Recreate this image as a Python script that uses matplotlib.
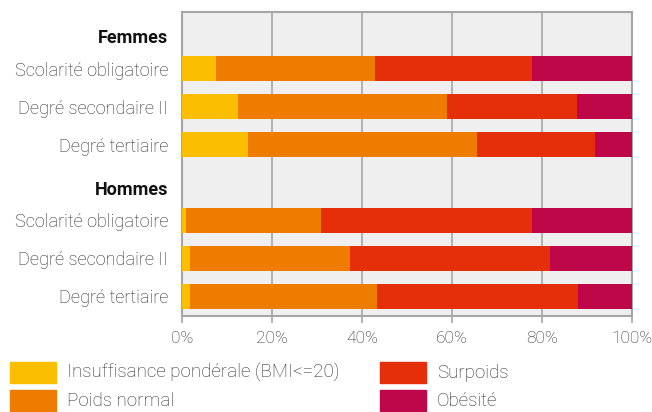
import matplotlib

matplotlib.use("Agg")
import matplotlib.pyplot as plt
from matplotlib.patches import Rectangle
from matplotlib.ticker import FuncFormatter

plt.rcParams["font.family"] = ["Roboto", "DejaVu Sans"]

# shares by education level, in percent
groups = ["Femmes", "Hommes"]
levels = ["Scolarité obligatoire", "Degré secondaire II", "Degré tertiaire"]
categories = ["Insuffisance pondérale (BMI<=20)", "Poids normal", "Surpoids", "Obésité"]
colors = ["#FBBE00", "#EE7C00", "#E42F0A", "#BE0748"]

femmes_insuff = [7.5, 12.4, 14.6]
femmes_normal = [35.3, 46.5, 51.0]
femmes_surpoids = [34.8, 28.7, 26.0]
femmes_obesite = [22.4, 12.4, 8.4]

hommes_insuff = [0.8, 1.7, 1.9]
hommes_normal = [30.0, 35.5, 41.3]
hommes_surpoids = [47.0, 44.6, 44.8]
hommes_obesite = [22.2, 18.2, 12.0]

series = [
    femmes_insuff + hommes_insuff,
    femmes_normal + hommes_normal,
    femmes_surpoids + hommes_surpoids,
    femmes_obesite + hommes_obesite,
]

ypos = [0, 1, 2, 4, 5, 6]
header_pos = [-0.8, 3.2]
labels = levels + levels
TXT = "#2b2b2b"

fig = plt.figure(figsize=(6.52, 4.12), dpi=100)
ax = fig.add_axes([0.279, 0.233, 0.691, 0.738])
ax.set_facecolor("#EFEFEF")

left = [0.0] * len(ypos)
for vals, col in zip(series, colors):
    ax.barh(ypos, vals, left=left, height=0.65, color=col, zorder=3)
    left = [a + b for a, b in zip(left, vals)]

ax.set_xlim(0, 100)
ax.set_ylim(6.52, -1.5)
ax.set_xticks(range(0, 101, 20))
ax.xaxis.set_major_formatter(FuncFormatter(lambda v, _: f"{v:.0f}%"))
ax.grid(axis="x", color="#A6A6A6", linewidth=1.2, zorder=1)
ax.tick_params(axis="x", length=5, width=1.2, color="#A6A6A6", labelsize=12.5,
               labelcolor=TXT, pad=6)
for lab in ax.get_xticklabels():
    lab.set_fontweight("light")

ax.set_yticks(ypos)
ax.set_yticklabels(labels, fontsize=13.1, color=TXT, fontweight="light")
ax.tick_params(axis="y", length=0, pad=10)

for name, y in zip(groups, header_pos):
    ax.text(-0.03, y, name, transform=ax.get_yaxis_transform(), ha="right",
            va="center", fontsize=13, fontweight="bold", color="#111111")

for sp in ax.spines.values():
    sp.set_color("#A6A6A6")
    sp.set_linewidth(1.5)

# legend in two columns below the axis
legend_slots = [(10, 362), (10, 390), (380, 362), (380, 390)]
W, H = 652, 412
for (px, py), name, col in zip(legend_slots, categories, colors):
    fig.patches.append(Rectangle((px / W, 1 - (py + 21) / H), 46 / W, 21 / H,
                                 transform=fig.transFigure, color=col))
    fig.text((px + 57) / W, 1 - (py + 11) / H, name, ha="left", va="center",
             fontsize=13.5, color=TXT, fontweight="light")

fig.savefig("out.png", dpi=100)
